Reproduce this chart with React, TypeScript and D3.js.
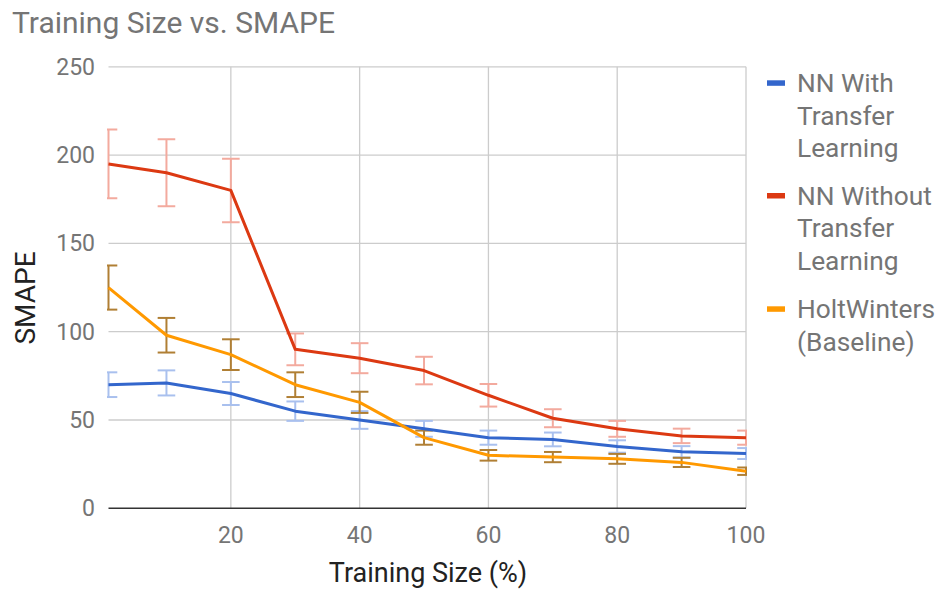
import React from "react";
import * as d3 from "d3";

// Training size (%) at which each model was evaluated
const trainingSize = [1, 10, 20, 30, 40, 50, 60, 70, 80, 90, 100];

// SMAPE per model
const nnWithTransfer = [70, 71, 65, 55, 50, 45, 40, 39, 35, 32, 31];
const nnWithoutTransfer = [195, 190, 180, 90, 85, 78, 64, 51, 45, 41, 40];
const holtWinters = [125, 98, 87, 70, 60, 40, 30, 29, 28, 26, 21];

// Half-width of each error bar
const nnWithTransferErr = [7, 7.1, 6.5, 5.5, 5, 4.5, 4, 3.9, 3.5, 3.2, 3.1];
const nnWithoutTransferErr = [19.5, 19, 18, 9, 8.5, 7.8, 6.4, 5.1, 4.5, 4.1, 4];
const holtWintersErr = [12.5, 9.8, 8.7, 7, 6, 4, 3, 2.9, 2.8, 2.6, 2.1];

const xTicks = [20, 40, 60, 80, 100];
const yTicks = [0, 50, 100, 150, 200, 250];

const seriesNames = [
  ["NN With", "Transfer", "Learning"],
  ["NN Without", "Transfer", "Learning"],
  ["HoltWinters", "(Baseline)"],
];

const W = 938;
const H = 589;
const left = 108.5;
const right = 746;
const top = 66.8;
const bottom = 508.3;

const FONT = "Roboto, 'Noto Sans', sans-serif";

export default function App() {
  const x = d3.scaleLinear().domain([1, 100]).range([left, right]);
  const y = d3.scaleLinear().domain([0, 250]).range([bottom, top]);

  const series = [
    { values: nnWithTransfer, err: nnWithTransferErr, color: "#3366cc", errColor: "#a9c0ee" },
    { values: nnWithoutTransfer, err: nnWithoutTransferErr, color: "#dc3912", errColor: "#f3aa9e" },
    { values: holtWinters, err: holtWintersErr, color: "#ff9900", errColor: "#b07f34" },
  ];

  const line = d3
    .line<number>()
    .x((_, i) => x(trainingSize[i]))
    .y((v) => y(v));

  const cap = 8.8;

  // legend layout
  const legendX = 767;
  const textX = 797;
  const lineGap = 32.3;
  const groupStarts = [92.3, 205, 318.3];

  return (
    <svg
      width={W}
      height={H}
      style={{ position: "absolute", left: 0, top: 0, background: "#fff" }}
      fontFamily={FONT}
    >
      <defs>
        <clipPath id="plot-clip">
          <rect x={left - 1.5} y={top - 30} width={right - left + 2.5} height={bottom - top + 60} />
        </clipPath>
      </defs>

      <text x={12} y={33} fontSize={30} fill="#757575">
        Training Size vs. SMAPE
      </text>

      {/* horizontal gridlines */}
      {yTicks.map((t) =>
        t === 0 ? null : (
          <line key={"gy" + t} x1={left} x2={right} y1={y(t)} y2={y(t)} stroke="#cccccc" strokeWidth={1.3} />
        )
      )}
      {/* vertical gridlines */}
      {xTicks.map((t) => (
        <line key={"gx" + t} x1={x(t)} x2={x(t)} y1={top} y2={bottom} stroke="#cccccc" strokeWidth={1.3} />
      ))}

      {/* y tick labels */}
      {yTicks.map((t) => (
        <text key={"ty" + t} x={95} y={y(t) + 8} textAnchor="end" fontSize={23} fill="#757575">
          {t}
        </text>
      ))}
      {/* x tick labels */}
      {xTicks.map((t) => (
        <text key={"tx" + t} x={x(t)} y={543} textAnchor="middle" fontSize={23} fill="#757575">
          {t}
        </text>
      ))}

      <g clipPath="url(#plot-clip)">
        {/* error bars */}
        {series.map((s, si) => (
          <g key={"e" + si} stroke={s.errColor} strokeWidth={2} fill="none">
            {s.values.map((v, i) => {
              const cx = x(trainingSize[i]);
              const hi = y(v + s.err[i]);
              const lo = y(v - s.err[i]);
              return (
                <g key={i}>
                  <line x1={cx} x2={cx} y1={hi} y2={lo} />
                  <line x1={cx - cap} x2={cx + cap} y1={hi} y2={hi} />
                  <line x1={cx - cap} x2={cx + cap} y1={lo} y2={lo} />
                </g>
              );
            })}
          </g>
        ))}
        {/* series lines */}
        {series.map((s, si) => (
          <path key={"l" + si} d={line(s.values) || ""} fill="none" stroke={s.color} strokeWidth={3} strokeLinejoin="round" />
        ))}
      </g>

      {/* baseline */}
      <line x1={left} x2={right} y1={y(0)} y2={y(0)} stroke="#333333" strokeWidth={1.6} />

      {/* axis titles */}
      <text x={428} y={582} textAnchor="middle" fontSize={27} fill="#222222">
        Training Size (%)
      </text>
      <text
        transform={`translate(35, 298) rotate(-90)`}
        textAnchor="middle"
        fontSize={28}
        fill="#222222"
      >
        SMAPE
      </text>

      {/* legend */}
      {seriesNames.map((lines, gi) => (
        <g key={"lg" + gi}>
          <rect x={legendX} y={groupStarts[gi] - 12} width={18} height={5.5} fill={series[gi].color} />
          {lines.map((txt, li) => (
            <text key={li} x={textX} y={groupStarts[gi] + li * lineGap} fontSize={26.3} fill="#757575">
              {txt}
            </text>
          ))}
        </g>
      ))}
    </svg>
  );
}
